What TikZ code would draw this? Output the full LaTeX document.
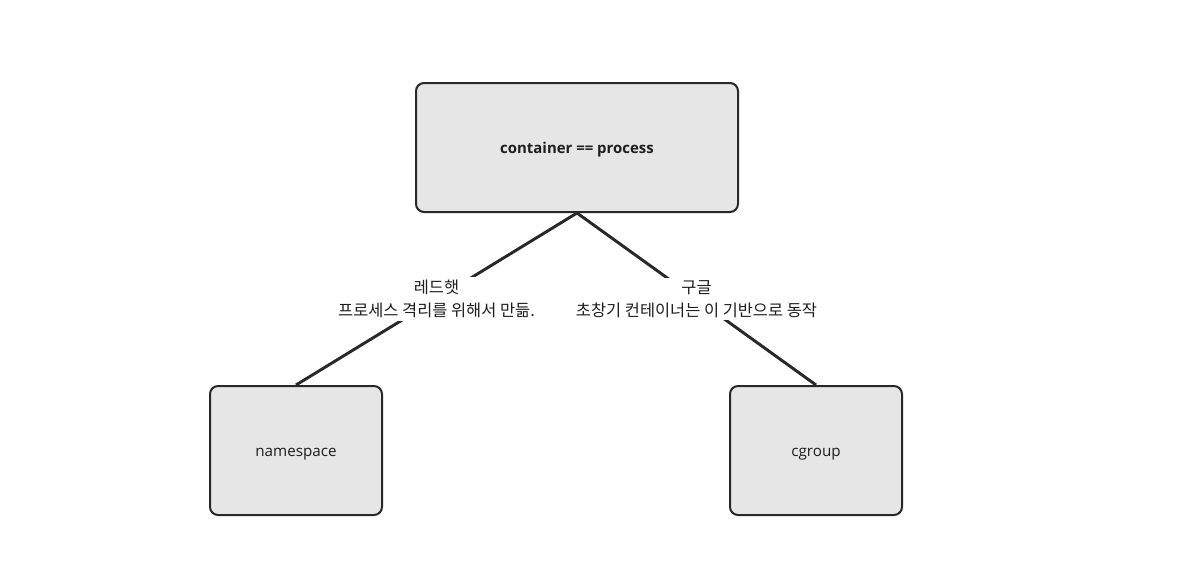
\documentclass[tikz,border=0pt]{standalone}
\usepackage{fontspec}
\setmainfont{Open Sans}
\newfontfamily\krfont{Noto Sans CJK KR}
\usepackage{tikz}
\usetikzlibrary{positioning}
\definecolor{boxfill}{RGB}{230,230,230}
\definecolor{boxline}{RGB}{40,40,40}
\definecolor{inktext}{RGB}{30,30,30}
\tikzset{
  mainbox/.style={draw=boxline, fill=boxfill, line width=1.5pt, rounded corners=6pt,
                  minimum width=241.5pt, minimum height=96.75pt, text=inktext,
                  text height=12.5pt, text depth=3pt,
                  font=\fontsize{11.2}{14}\selectfont\bfseries, align=center},
  partbox/.style={draw=boxline, fill=boxfill, line width=1.5pt, rounded corners=6pt,
                  minimum width=129pt, minimum height=96.75pt, text=inktext,
                  text height=12.5pt, text depth=3pt,
                  font=\fontsize{11.4}{14}\selectfont, align=center},
  link/.style={draw=boxline, line width=2.2pt},
  linklabel/.style={fill=white, inner sep=2pt, text=inktext,
                    font=\krfont\fontsize{12.3}{17.3}\selectfont, align=center}
}
\begin{document}
\begin{tikzpicture}[x=0.75pt, y=-0.75pt]
  \useasboundingbox (0,0) rectangle (1182,578);

  % top box
  \node[mainbox] (container) at (577,147.5) {container == process};

  % the two parts below
  \node[partbox] (namespace) at (296,450.5) {namespace};
  \node[partbox] (cgroup) at (816,450.5) {cgroup};

  % connectors with labels
  \draw[link] (container.south) -- (namespace.north)
    node[linklabel, pos=0.5] (redhat) {레드햇\\프로세스 격리를 위해서 만듦.};
  \draw[link] (container.south) -- (cgroup.north)
    node[linklabel, pos=0.5] (google) {구글\\초창기 컨테이너는 이 기반으로 동작};
\end{tikzpicture}
\end{document}
